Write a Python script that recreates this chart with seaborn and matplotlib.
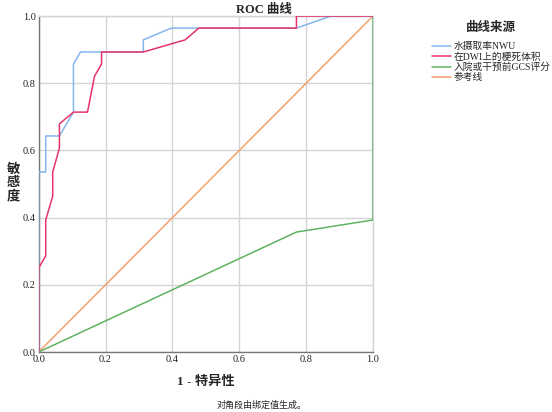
import matplotlib
matplotlib.use('Agg')
import matplotlib.pyplot as plt
import seaborn as sns
import pandas as pd

# ROC points
nwu_fpr = [0.0, 0.0, 0.021, 0.021, 0.062, 0.104, 0.104, 0.125, 0.313, 0.313, 0.396, 0.771, 0.875, 1.0]
nwu_tpr = [0.0, 0.536, 0.536, 0.643, 0.643, 0.714, 0.857, 0.893, 0.893, 0.929, 0.964, 0.964, 1.0, 1.0]

dwi_fpr = [0.0, 0.0, 0.021, 0.021, 0.042, 0.042, 0.062, 0.062, 0.104, 0.146, 0.167, 0.188, 0.188,
           0.313, 0.438, 0.479, 0.771, 0.771, 1.0]
dwi_tpr = [0.0, 0.25, 0.286, 0.393, 0.464, 0.536, 0.607, 0.679, 0.714, 0.714, 0.821, 0.857, 0.893,
           0.893, 0.929, 0.964, 0.964, 1.0, 1.0]

gcs_fpr = [0.0, 0.771, 1.0, 1.0]
gcs_tpr = [0.0, 0.357, 0.393, 1.0]

ref_fpr = [0.0, 1.0]
ref_tpr = [0.0, 1.0]

labels = ['水摄取率NWU', '在DWI上的梗死体积', '入院或干预前GCS评分', '参考线']
colors = ['#84b5ef', '#e6336a', '#5fb360', '#f4a16e']
ticks = [0.0, 0.2, 0.4, 0.6, 0.8, 1.0]
tick_labels = ['0.0', '0.2', '0.4', '0.6', '0.8', '1.0']

sns.set_style('white')
plt.rcParams['font.family'] = ['Liberation Serif', 'Noto Sans CJK SC', 'DejaVu Sans']

fig = plt.figure(figsize=(5.52, 4.12), dpi=100)
ax = fig.add_axes([0.0701, 0.1456, 0.6056, 0.8155])

curves = [(nwu_fpr, nwu_tpr), (dwi_fpr, dwi_tpr), (gcs_fpr, gcs_tpr), (ref_fpr, ref_tpr)]
zorders = [4, 5, 3, 2]
for (fx, ty), lab, col, z in zip(curves, labels, colors, zorders):
    df = pd.DataFrame({'fpr': fx, 'tpr': ty})
    sns.lineplot(data=df, x='fpr', y='tpr', sort=False, estimator=None, color=col,
                 linewidth=1.1, label=lab, ax=ax, zorder=z)

ax.set_xlim(0, 1)
ax.set_ylim(0, 1)
ax.set_xticks(ticks)
ax.set_yticks(ticks)
ax.set_xticklabels(tick_labels)
ax.set_yticklabels(tick_labels)
ax.tick_params(length=0, labelsize=7.5, colors='#222222', pad=2)
ax.grid(True, color='#d4d4d4', linewidth=1.0)
ax.set_axisbelow(True)
for s in ['top', 'right']:
    ax.spines[s].set_color('#d4d4d4')
    ax.spines[s].set_linewidth(1.0)
for s in ['left', 'bottom']:
    ax.spines[s].set_color('#777777')
    ax.spines[s].set_linewidth(1.0)
ax.set_xlabel('')
ax.set_ylabel('')

# legend on the right
handles, labs = ax.get_legend_handles_labels()
ax.get_legend().remove()
leg = fig.legend(handles, labs, title='曲线来源', loc='upper left',
                 bbox_to_anchor=(428 / 552, 1 - 18 / 412), frameon=False,
                 fontsize=7, title_fontsize=9, handlelength=2.0, handletextpad=0.2,
                 labelspacing=0.08, borderaxespad=0)
leg.get_title().set_fontweight('bold')
leg._legend_box.sep = 6

fig.text(264 / 552, 1 - 10 / 412, 'ROC 曲线', ha='center', va='center', fontsize=9, fontweight='bold')
fig.text(206 / 552, 1 - 382 / 412, '1 - 特异性', ha='center', va='center', fontsize=9.5, fontweight='bold')
# vertical y label, one character per line
for ch, yy in zip('敏感度', [170, 183, 196]):
    fig.text(13 / 552, 1 - yy / 412, ch, ha='center', va='center', fontsize=9.5, fontweight='bold')
fig.text(262 / 552, 1 - 405 / 412, '对角段由绑定值生成。', ha='center', va='center', fontsize=6.5)

fig.savefig('out.png', dpi=100)
